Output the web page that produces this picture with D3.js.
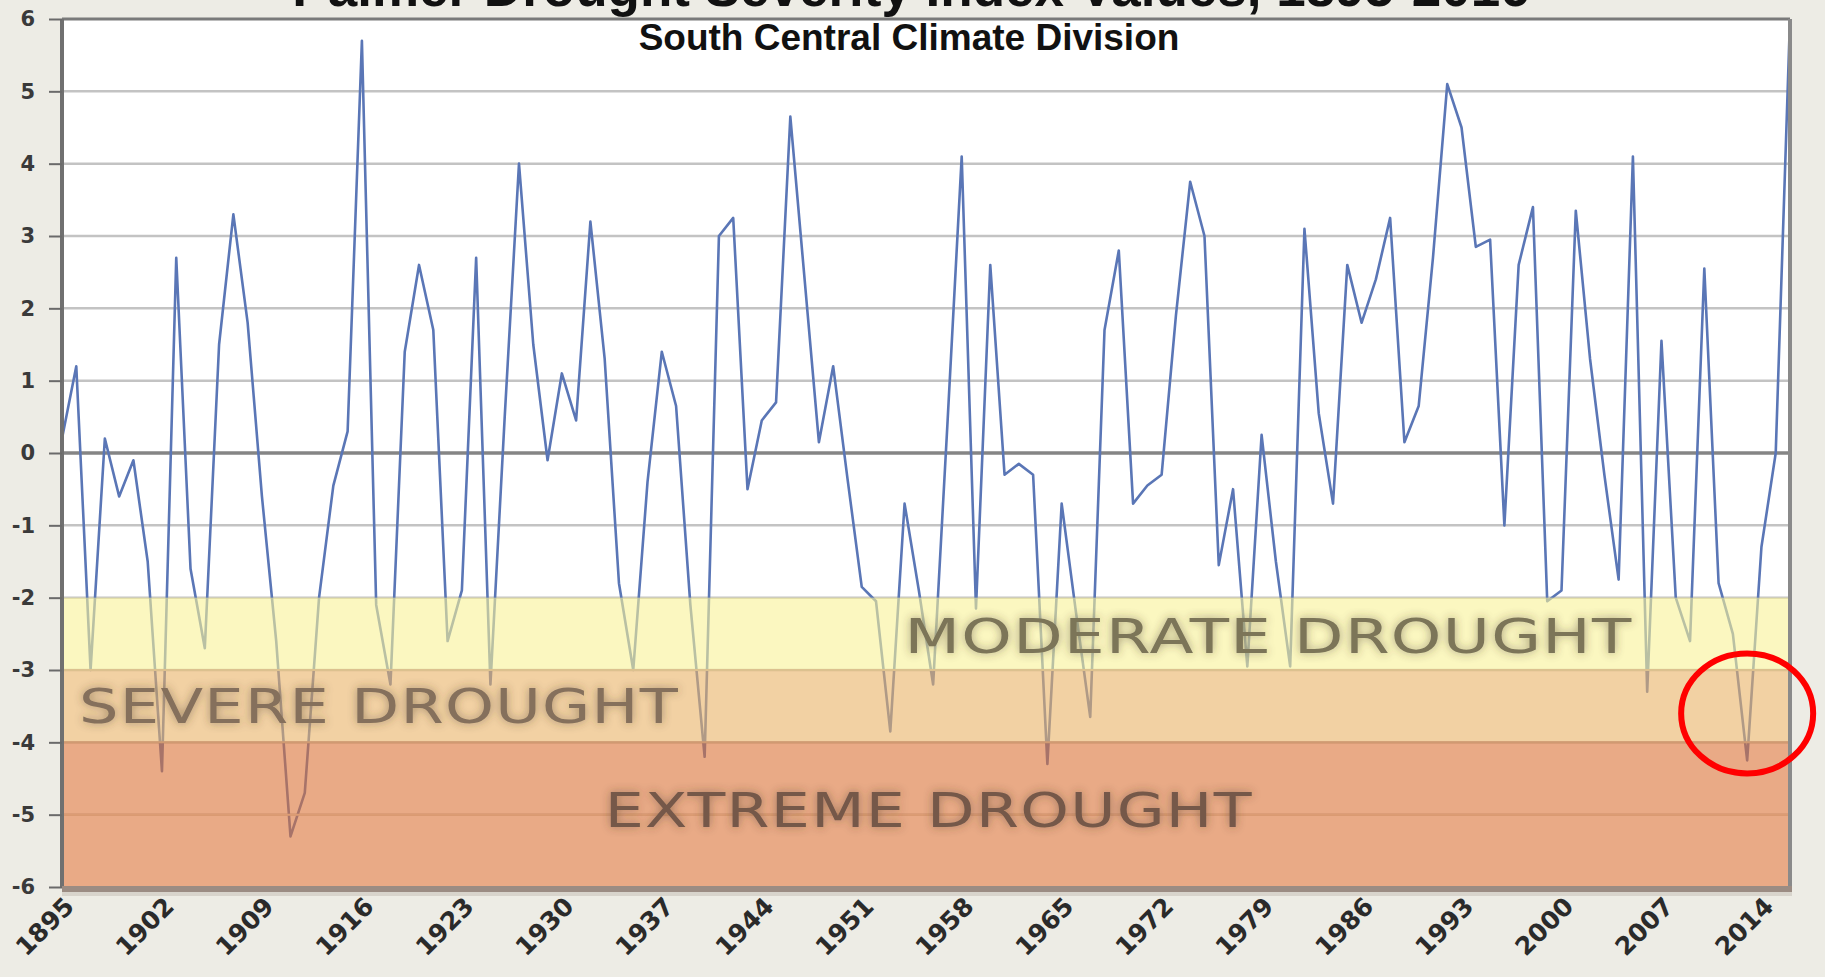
<!DOCTYPE html>
<html lang="en">
<head>
  <meta charset="UTF-8">
  <title>Palmer Drought Severity Index</title>
  <script src="https://d3js.org/d3.v7.min.js"></script>
  <style>
    body {
      margin: 0;
      background-color: #edece5;
      overflow: hidden;
    }
    svg {
      display: block;
      background-color: #edece5;
    }
    .ylab text {
      font-family: "DejaVu Sans", sans-serif;
      font-weight: bold;
      font-size: 21px;
      fill: #3a3a3a;
    }
    .xlab text {
      font-family: "DejaVu Sans", sans-serif;
      font-weight: bold;
      font-size: 25px;
      fill: #2a2a2a;
    }
    .band-label {
      font-family: "DejaVu Sans", sans-serif;
      font-size: 48px;
      letter-spacing: 1px;
    }
  </style>
</head>
<body>
  <div id="chart"></div>

  <script>
    // years shown on the chart (one point per year)
    const years = [
      1895, 1896, 1897, 1898, 1899, 1900, 1901, 1902, 1903, 1904,
      1905, 1906, 1907, 1908, 1909, 1910, 1911, 1912, 1913, 1914,
      1915, 1916, 1917, 1918, 1919, 1920, 1921, 1922, 1923, 1924,
      1925, 1926, 1927, 1928, 1929, 1930, 1931, 1932, 1933, 1934,
      1935, 1936, 1937, 1938, 1939, 1940, 1941, 1942, 1943, 1944,
      1945, 1946, 1947, 1948, 1949, 1950, 1951, 1952, 1953, 1954,
      1955, 1956, 1957, 1958, 1959, 1960, 1961, 1962, 1963, 1964,
      1965, 1966, 1967, 1968, 1969, 1970, 1971, 1972, 1973, 1974,
      1975, 1976, 1977, 1978, 1979, 1980, 1981, 1982, 1983, 1984,
      1985, 1986, 1987, 1988, 1989, 1990, 1991, 1992, 1993, 1994,
      1995, 1996, 1997, 1998, 1999, 2000, 2001, 2002, 2003, 2004,
      2005, 2006, 2007, 2008, 2009, 2010, 2011, 2012, 2013, 2014,
      2015, 2016
    ];

    // PDSI values
    const pdsi = [
       0.2,  1.2, -3.0,  0.2, -0.6, -0.1, -1.5, -4.4,  2.7, -1.6,
      -2.7,  1.5,  3.3,  1.8, -0.6, -2.6, -5.3, -4.7, -2.0, -0.45,
       0.3,  5.7, -2.1, -3.2,  1.4,  2.6,  1.7, -2.6, -1.9,  2.7,
      -3.2,  0.5,  4.0,  1.5, -0.1,  1.1,  0.45, 3.2,  1.3, -1.8,
      -3.0, -0.4,  1.4,  0.65, -2.1, -4.2,  3.0,  3.25, -0.5, 0.45,
       0.7,  4.65, 2.4,  0.15, 1.2, -0.35, -1.85, -2.05, -3.85, -0.7,
      -1.9, -3.2,  0.4,  4.1, -2.15, 2.6, -0.3, -0.15, -0.3, -4.3,
      -0.7, -2.2, -3.65, 1.7,  2.8, -0.7, -0.45, -0.3,  1.9,  3.75,
       3.0, -1.55, -0.5, -2.95, 0.25, -1.5, -2.95, 3.1, 0.55, -0.7,
       2.6,  1.8,  2.4,  3.25, 0.15, 0.65, 2.7,  5.1,  4.5,  2.85,
       2.95, -1.0, 2.6,  3.4, -2.05, -1.9, 3.35, 1.3, -0.3, -1.75,
       4.1, -3.3,  1.55, -2.0, -2.6, 2.55, -1.8, -2.5, -4.25, -1.3,
       0.0,  6.0
    ];

    const xTickYears = [1895, 1902, 1909, 1916, 1923, 1930, 1937, 1944, 1951,
                        1958, 1965, 1972, 1979, 1986, 1993, 2000, 2007, 2014];
    const yTicks = [6, 5, 4, 3, 2, 1, 0, -1, -2, -3, -4, -5, -6];

    // drought bands
    const bandTop = [-2, -3, -4];
    const bandBottom = [-3, -4, -6];
    const bandNames = ["MODERATE DROUGHT", "SEVERE DROUGHT", "EXTREME DROUGHT"];
    const bandLabelYears = [1954, 1895, 1933];
    const bandLabelValues = [-2.76, -3.73, -5.17];

    const titleText = "Palmer Drought Severity Index Values, 1895-2016";
    const subtitleText = "South Central Climate Division";
    const highlightYear = 2013;
    const highlightValue = -3.6;

    const w = 1825;
    const h = 977;
    const m = { left: 62, right: 1790, top: 19, bottom: 887 };

    const svg = d3.select("#chart")
                  .append("svg")
                  .attr("width", w)
                  .attr("height", h);

    const defs = svg.append("defs");
    const glow = defs.append("filter")
                     .attr("id", "glow")
                     .attr("x", "-10%").attr("y", "-50%")
                     .attr("width", "120%").attr("height", "200%");
    glow.append("feGaussianBlur")
        .attr("in", "SourceAlpha")
        .attr("stdDeviation", 5)
        .attr("result", "blur");
    glow.append("feFlood").attr("flood-color", "#4a3a28").attr("flood-opacity", 0.5);
    glow.append("feComposite").attr("in2", "blur").attr("operator", "in").attr("result", "shadow");
    const merge = glow.append("feMerge");
    merge.append("feMergeNode").attr("in", "shadow");
    merge.append("feMergeNode").attr("in", "SourceGraphic");

    const xScale = d3.scalePoint()
                     .domain(years)
                     .range([m.left, m.right]);

    const yScale = d3.scaleLinear()
                     .domain([-6, 6])
                     .range([m.bottom, m.top]);

    // plot background
    svg.append("rect")
       .attr("x", m.left)
       .attr("y", m.top)
       .attr("width", m.right - m.left)
       .attr("height", m.bottom - m.top)
       .attr("fill", "#ffffff");

    // gridlines
    svg.append("g")
       .selectAll("line")
       .data(yTicks.filter(d => d !== 0 && d !== 6 && d !== -6))
       .enter()
       .append("line")
       .attr("x1", m.left)
       .attr("x2", m.right)
       .attr("y1", d => yScale(d))
       .attr("y2", d => yScale(d))
       .attr("stroke", "#c3c3c3")
       .attr("stroke-width", 2.5);

    svg.append("line")
       .attr("x1", m.left)
       .attr("x2", m.right)
       .attr("y1", yScale(0))
       .attr("y2", yScale(0))
       .attr("stroke", "#858585")
       .attr("stroke-width", 3.5);

    // series line
    const line = d3.line()
                   .x((d, i) => xScale(years[i]))
                   .y(d => yScale(d));

    svg.append("path")
       .datum(pdsi)
       .attr("fill", "none")
       .attr("stroke", "#5a76b6")
       .attr("stroke-width", 2.6)
       .attr("stroke-linejoin", "round")
       .attr("d", line);

    // drought bands, drawn translucent over the line
    const bandColors = ["#f8f196", "#e9b366", "#da7135"];
    svg.append("g")
       .selectAll("rect")
       .data(bandTop)
       .enter()
       .append("rect")
       .attr("x", m.left)
       .attr("width", m.right - m.left)
       .attr("y", d => yScale(d))
       .attr("height", (d, i) => yScale(bandBottom[i]) - yScale(d))
       .attr("fill", (d, i) => bandColors[i])
       .attr("fill-opacity", 0.6);

    // band boundary lines
    svg.append("g")
       .selectAll("line")
       .data([-3, -4, -5])
       .enter()
       .append("line")
       .attr("x1", m.left)
       .attr("x2", m.right)
       .attr("y1", d => yScale(d))
       .attr("y2", d => yScale(d))
       .attr("stroke", (d, i) => ["#dcc18f", "#d09a72", "#dc9c74"][i])
       .attr("stroke-width", 2);

    // band labels
    const labelWidths = [728, 600, 648];
    const labelFills = ["#7b7459", "#85705c", "#74584a"];
    svg.append("g")
       .selectAll("text")
       .data(bandNames)
       .enter()
       .append("text")
       .attr("class", "band-label")
       .attr("x", (d, i) => xScale(bandLabelYears[i]) + (i === 1 ? 17 : 0))
       .attr("y", (d, i) => yScale(bandLabelValues[i]))
       .attr("textLength", (d, i) => labelWidths[i])
       .attr("lengthAdjust", "spacingAndGlyphs")
       .attr("fill", (d, i) => labelFills[i])
       .attr("filter", "url(#glow)")
       .text(d => d);

    // frame
    svg.append("line")
       .attr("x1", m.left).attr("x2", m.right)
       .attr("y1", m.top).attr("y2", m.top)
       .attr("stroke", "#7a7a7a").attr("stroke-width", 3);
    svg.append("line")
       .attr("x1", m.left).attr("x2", m.left)
       .attr("y1", m.top).attr("y2", m.bottom)
       .attr("stroke", "#707070").attr("stroke-width", 4);
    svg.append("line")
       .attr("x1", m.right).attr("x2", m.right)
       .attr("y1", m.top).attr("y2", m.bottom)
       .attr("stroke", "#8a8a8a").attr("stroke-width", 4);
    svg.append("line")
       .attr("x1", m.left).attr("x2", m.right + 2)
       .attr("y1", m.bottom + 2).attr("y2", m.bottom + 2)
       .attr("stroke", "#9b8c83").attr("stroke-width", 6);
    svg.append("line")
       .attr("x1", m.left).attr("x2", m.right + 2)
       .attr("y1", m.bottom + 7).attr("y2", m.bottom + 7)
       .attr("stroke", "#d8d4cc").attr("stroke-width", 4);

    // y axis
    const yAxis = d3.axisLeft(yScale)
                    .tickValues(yTicks)
                    .tickSize(13)
                    .tickPadding(14)
                    .tickFormat(d3.format("d"));

    const yg = svg.append("g")
                  .attr("class", "ylab")
                  .attr("transform", `translate(${m.left}, 0)`)
                  .call(yAxis);
    yg.select(".domain").remove();
    yg.selectAll(".tick line").attr("stroke", "#6a6a6a").attr("stroke-width", 2);
    yg.selectAll(".tick text").text(d => d < 0 ? "-" + Math.abs(d) : d);

    // x axis
    const xAxis = d3.axisBottom(xScale)
                    .tickValues(xTickYears)
                    .tickSize(0);

    const xg = svg.append("g")
                  .attr("class", "xlab")
                  .attr("transform", `translate(0, ${m.bottom})`)
                  .call(xAxis);
    xg.select(".domain").remove();
    xg.selectAll(".tick text")
      .attr("text-anchor", "end")
      .attr("dy", null)
      .attr("y", 0)
      .attr("transform", "translate(13, 21) rotate(-45)");

    // titles
    svg.append("text")
       .attr("x", 911)
       .attr("y", 6)
       .attr("text-anchor", "middle")
       .attr("font-family", "Liberation Sans, Arial, sans-serif")
       .attr("font-weight", "bold")
       .attr("font-size", 53)
       .attr("fill", "#111")
       .text(titleText);

    svg.append("text")
       .attr("x", 909)
       .attr("y", 50)
       .attr("text-anchor", "middle")
       .attr("font-family", "Liberation Sans, Arial, sans-serif")
       .attr("font-weight", "bold")
       .attr("font-size", 37)
       .attr("fill", "#111")
       .text(subtitleText);

    // red highlight ring
    svg.append("ellipse")
       .attr("cx", xScale(highlightYear))
       .attr("cy", yScale(highlightValue))
       .attr("rx", 66)
       .attr("ry", 60)
       .attr("fill", "none")
       .attr("stroke", "#ff0000")
       .attr("stroke-width", 6);
  </script>
</body>
</html>
